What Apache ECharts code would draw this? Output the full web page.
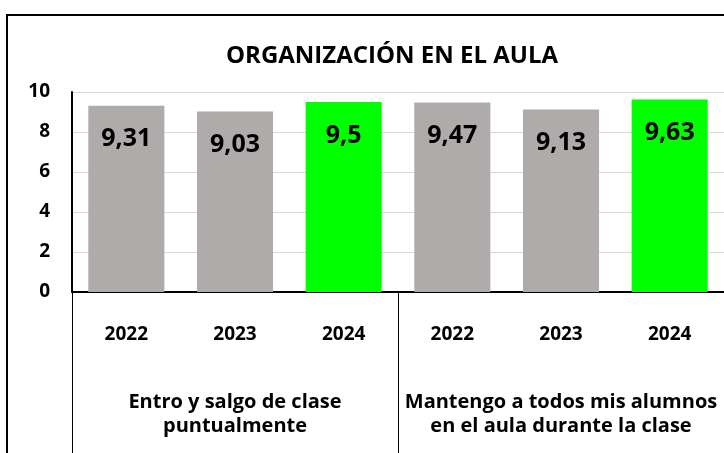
<!DOCTYPE html>
<html><head><meta charset="utf-8">
<script src="https://cdn.jsdelivr.net/npm/echarts@6/dist/echarts.min.js"></script>
<style>html,body{margin:0;padding:0;background:#fff}#c{width:724px;height:453px}</style>
</head><body><div id="c"></div>
<script>
const titleText = 'ORGANIZACIÓN EN EL AULA';
const years = ['2022', '2023', '2024', '2022', '2023', '2024'];
const groups = ['Entro y salgo de clase\npuntualmente', 'Mantengo a todos mis alumnos\nen el aula durante la clase'];
const values = [9.31, 9.03, 9.5, 9.47, 9.13, 9.63];
const barColors = ['#AEABAA', '#AEABAA', '#00FF00', '#AEABAA', '#AEABAA', '#00FF00'];
const yTicks = [0, 2, 4, 6, 8, 10];

const FONT = 'Open Sans';
const chart = echarts.init(document.getElementById('c'));
chart.setOption({
  backgroundColor: '#fff',
  animation: false,
  title: {
    text: titleText, left: 387, textAlign: 'center', top: 39,
    textStyle: { fontFamily: FONT, fontWeight: 'bold', fontSize: 24, color: '#000' }
  },
  graphic: [{
    type: 'rect', shape: { x: 7, y: 15, width: 760, height: 480 },
    style: { fill: 'none', stroke: '#000', lineWidth: 2 }, silent: true, z: 10
  }],
  grid: { left: 72, right: -4, top: 92, bottom: 161, containLabel: false },
  xAxis: [{
    type: 'category', data: years, position: 'bottom',
    axisLine: { show: true, lineStyle: { color: '#000', width: 2 } },
    axisTick: { show: false },
    axisLabel: { interval: 0, margin: 33, fontFamily: FONT, fontWeight: 'bold', fontSize: 19, color: '#000' }
  }, {
    type: 'category', data: groups, position: 'bottom',
    axisLine: { show: false },
    axisTick: { show: true, interval: 0, length: 170, lineStyle: { color: '#000', width: 1 } },
    axisLabel: { interval: 0, hideOverlap: false, margin: 98, fontFamily: FONT, fontWeight: 'bold', fontSize: 20, color: '#000', lineHeight: 24 }
  }],
  yAxis: {
    type: 'value', min: 0, max: 10, interval: 2,
    axisLine: { show: true, lineStyle: { color: '#000', width: 2 } },
    axisTick: { show: false },
    splitLine: { lineStyle: { color: '#D9D9D9', width: 1 } },
    axisLabel: {
      margin: 22, fontFamily: FONT, fontWeight: 'bold', fontSize: 19, color: '#000',
      formatter: v => yTicks.includes(v) ? String(v) : ''
    }
  },
  series: [{
    type: 'bar', xAxisIndex: 0, barCategoryGap: '30%',
    data: values.map((v, i) => ({ value: v, itemStyle: { color: barColors[i] } })),
    label: {
      show: true, position: 'insideTop', distance: 21,
      fontFamily: FONT, fontWeight: 'bold', fontSize: 25, color: '#000',
      formatter: p => String(p.value).replace('.', ',')
    }
  }]
});
</script></body></html>
